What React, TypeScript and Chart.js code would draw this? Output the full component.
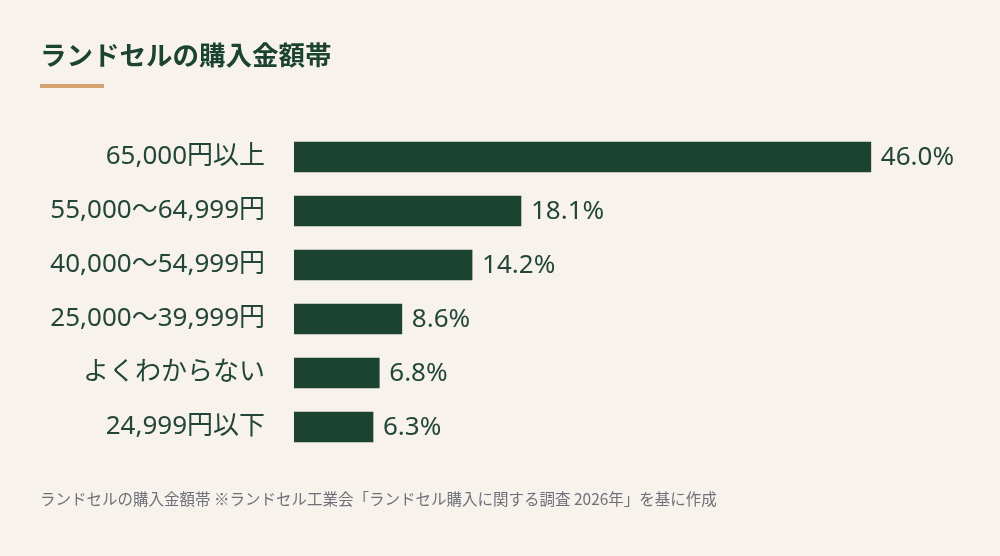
import { useEffect, useRef } from "react";
import { Chart, registerables } from "chart.js";

Chart.register(...registerables);

const categories = [
  "65,000円以上",
  "55,000～64,999円",
  "40,000～54,999円",
  "25,000～39,999円",
  "よくわからない",
  "24,999円以下",
];
const shares = [46.0, 18.1, 14.2, 8.6, 6.8, 6.3];

const FONT = "'Noto Sans CJK JP', 'Noto Sans', sans-serif";
const LABEL_FONT = "'Noto Sans', 'Noto Sans CJK JP', sans-serif";
const GREEN = "#1c4332";
const TEXT = "#24463a";

// writes "46.0%" etc. just past the end of each bar
const valueLabels = {
  id: "valueLabels",
  afterDatasetsDraw(chart: Chart) {
    const { ctx } = chart;
    const meta = chart.getDatasetMeta(0);
    ctx.save();
    ctx.font = `26px ${LABEL_FONT}`;
    ctx.fillStyle = TEXT;
    ctx.textAlign = "left";
    ctx.textBaseline = "middle";
    meta.data.forEach((bar, i) => {
      ctx.fillText(shares[i].toFixed(1) + "%", bar.x + 10, bar.y + 1);
    });
    ctx.restore();
  },
};

const App: React.FC = () => {
  const chartRef = useRef<HTMLCanvasElement | null>(null);

  useEffect(() => {
    if (!chartRef.current) return;
    const chart = new Chart(chartRef.current, {
      type: "bar",
      data: {
        labels: categories,
        datasets: [
          {
            data: shares,
            backgroundColor: GREEN,
            barThickness: 30,
          },
        ],
      },
      options: {
        indexAxis: "y",
        animation: false,
        responsive: true,
        maintainAspectRatio: false,
        layout: { padding: { top: 130, bottom: 102, left: 0, right: 79 } },
        plugins: {
          legend: { display: false },
          tooltip: { enabled: false },
        },
        scales: {
          x: { display: false, min: 0, max: 50 },
          y: {
            grid: { display: false, drawTicks: false },
            border: { display: false },
            afterFit: (scale: any) => {
              scale.width = 294;
            },
            ticks: {
              padding: 29,
              color: TEXT,
              font: { family: LABEL_FONT, size: 26 },
            },
          },
        },
      },
      plugins: [valueLabels],
    });
    return () => {
      chart.destroy();
    };
  }, []);

  return (
    <div
      style={{
        position: "absolute",
        left: 0,
        top: 0,
        width: 1000,
        height: 556,
        background: "#f7f3ec",
        fontFamily: FONT,
        overflow: "hidden",
      }}
    >
      <div style={{ position: "absolute", left: 0, top: 0, width: 1000, height: 556 }}>
        <canvas ref={chartRef}></canvas>
      </div>
      <div
        style={{
          position: "absolute",
          left: 40,
          top: 40,
          fontSize: 26.5,
          lineHeight: "28px",
          fontWeight: 700,
          color: GREEN,
          whiteSpace: "nowrap",
        }}
      >
        ランドセルの購入金額帯
      </div>
      <div
        style={{
          position: "absolute",
          left: 40,
          top: 84,
          width: 64,
          height: 4,
          background: "#d5a272",
        }}
      ></div>
      <div
        style={{
          position: "absolute",
          left: 40,
          top: 490,
          fontSize: 15.5,
          lineHeight: "17px",
          color: "#6e7079",
          whiteSpace: "nowrap",
        }}
      >
        ランドセルの購入金額帯 ※ランドセル工業会「ランドセル購入に関する調査 2026年」を基に作成
      </div>
    </div>
  );
};

export default App;
